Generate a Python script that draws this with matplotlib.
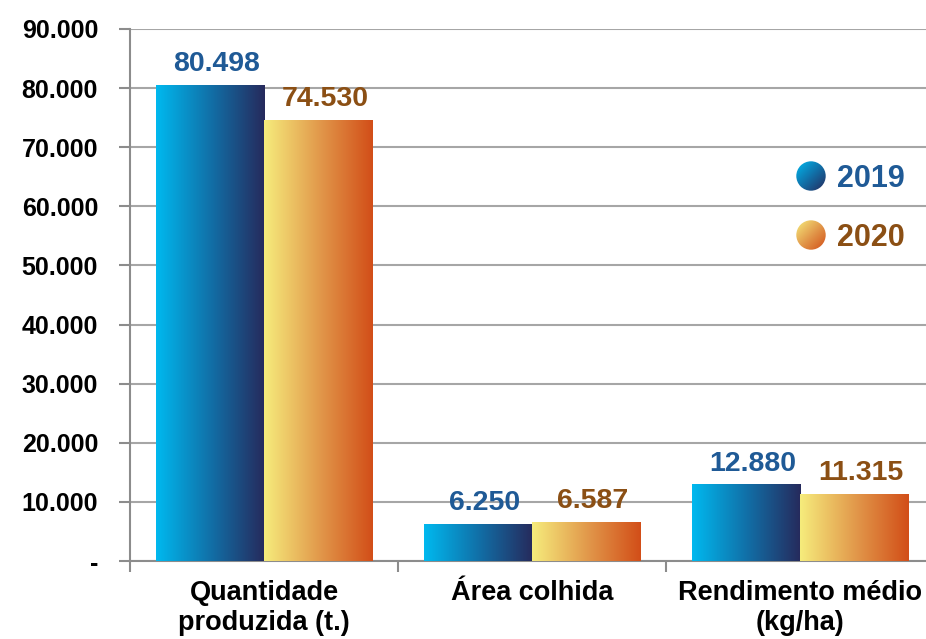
import numpy as np
import matplotlib.pyplot as plt
from matplotlib.patches import Circle
from matplotlib.colors import LinearSegmentedColormap

categorias = ["Quantidade\nproduzida (t.)", "Área colhida", "Rendimento médio\n(kg/ha)"]
v2019 = [80498, 6250, 12880]
v2020 = [74530, 6587, 11315]
anos = ["2019", "2020"]
yticks = [0, 10000, 20000, 30000, 40000, 50000, 60000, 70000, 80000, 90000]
yticklabels = ["-", "10.000", "20.000", "30.000", "40.000", "50.000", "60.000", "70.000", "80.000", "90.000"]

plt.rcParams['font.family'] = ['Liberation Sans', 'DejaVu Sans']
plt.rcParams['font.weight'] = 'bold'

cmap19 = LinearSegmentedColormap.from_list("c19", ["#00b9ef", "#1170a8", "#262a5c"])
cmap20 = LinearSegmentedColormap.from_list("c20", ["#f6ec7c", "#e29a4c", "#d24e18"])
txt19 = "#1f5a96"
txt20 = "#8b4f14"

fig = plt.figure(figsize=(9.26, 6.39), dpi=100)
ax = fig.add_axes([130/926, 1-561/639, 1-130/926, (561-29)/639])

x = np.arange(len(categorias))
w = 0.403
grad = np.linspace(0, 1, 256).reshape(1, -1)

def gradbar(x0, h, cmap):
    ax.imshow(grad, cmap=cmap, aspect='auto', extent=[x0, x0 + w, 0, h], zorder=3, interpolation='bicubic')

for i in range(len(categorias)):
    gradbar(x[i] - w, v2019[i], cmap19)
    gradbar(x[i], v2020[i], cmap20)
    ax.annotate(f"{v2019[i]:,}".replace(",", "."), (x[i] - w/2, v2019[i]), xytext=(5, 6),
                textcoords='offset points', ha='center', va='bottom', fontsize=20.5, color=txt19, fontweight='bold')
    ax.annotate(f"{v2020[i]:,}".replace(",", "."), (x[i] + w/2, v2020[i]), xytext=(5, 6),
                textcoords='offset points', ha='center', va='bottom', fontsize=20.5, color=txt20, fontweight='bold')

ax.set_xlim(-0.5, 2.5 - 8/268)
ax.set_ylim(0, 90000)
ax.set_yticks(yticks)
ax.set_yticklabels(yticklabels, fontsize=18, fontweight='bold')
ax.yaxis.grid(True, color='#a6a6a6', linewidth=1.5, zorder=0)
ax.set_axisbelow(True)

ax.set_xticks([-0.5, 0.5, 1.5])
ax.set_xticklabels([])
ax.set_xticks(x, minor=True)
ax.set_xticklabels(categorias, minor=True, fontsize=19.5, fontweight='bold', linespacing=1.2)
ax.tick_params(axis='x', which='minor', length=0, pad=14)
ax.tick_params(axis='x', which='major', length=8, color='#8c8c8c', width=1.5)
ax.tick_params(axis='y', length=8, color='#8c8c8c', width=1.5, pad=15)

for s in ['top', 'right']:
    ax.spines[s].set_visible(False)
for s in ['left', 'bottom']:
    ax.spines[s].set_color('#8c8c8c')
    ax.spines[s].set_linewidth(1.5)

# legenda com círculos em gradiente
gy = np.linspace(0, 1, 64)
g2 = (np.add.outer(gy, gy) / 2)
for j, (cm, col) in enumerate([(cmap19, txt19), (cmap20, txt20)]):
    cy = 1 - (176 + 59*j)/639
    lax = fig.add_axes([796/926, cy - 15/639, 30/926, 30/639])
    lax.set_axis_off()
    im = lax.imshow(g2, cmap=cm, extent=[0, 1, 0, 1], origin='upper')
    circ = Circle((0.5, 0.5), 0.49, transform=lax.transData)
    im.set_clip_path(circ)
    lax.set_xlim(0, 1)
    lax.set_ylim(0, 1)
    fig.text(837/926, cy - 3/639, anos[j], fontsize=22, fontweight='bold', color=col, va='center', ha='left')

fig.savefig("out.png", dpi=100)
